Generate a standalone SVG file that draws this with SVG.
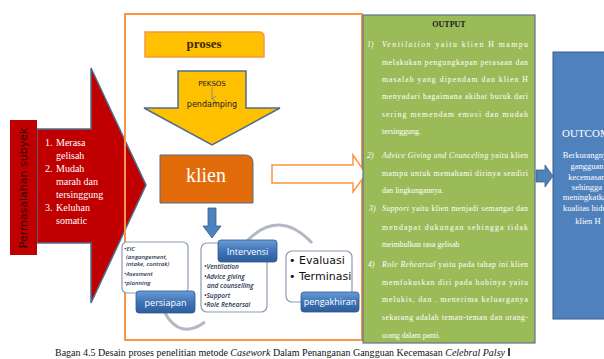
<svg xmlns="http://www.w3.org/2000/svg" width="604" height="359" viewBox="0 0 604 359">
<defs>
<style>
.serif{font-family:"Liberation Serif","Times New Roman",serif}
.sans{font-family:"DejaVu Sans","Liberation Sans",sans-serif}
.gt{font-family:"Liberation Serif",serif;font-size:7.8px;fill:#ffffff}
.card{fill:#ffffff;stroke:#8c9bb0;stroke-width:1.2}
.lbl{fill:url(#bg);stroke:#2f5888;stroke-width:0.8}
.lt{font-family:"Open Sans","DejaVu Sans",sans-serif;font-size:9px;fill:#ffffff;text-anchor:middle}
.it{font-family:"Open Sans","DejaVu Sans",sans-serif;font-style:italic;font-weight:600;fill:#2a3550}
.arc{fill:none;stroke:#b3b9c2;stroke-width:3}
</style>
<linearGradient id="bg" x1="0" y1="0" x2="0" y2="1">
<stop offset="0" stop-color="#6a9bd6"/>
<stop offset="0.5" stop-color="#3f74b8"/>
<stop offset="1" stop-color="#2d5d9c"/>
</linearGradient>
<marker id="sa" markerWidth="6" markerHeight="6" refX="3" refY="5" orient="auto" markerUnits="userSpaceOnUse">
<path d="M0,1 L3,5 L6,1" fill="none" stroke="#6b84a6" stroke-width="0.8"/>
</marker>
</defs>
<rect width="604" height="359" fill="#ffffff"/>

<g id="frame-bg"><rect x="125" y="14" width="237" height="326" fill="#ffffff"/></g>

<g id="red-arrow">
<path d="M37,129 H91 V68 L146,185 L91,303 V243 H37 Z" fill="#c00000" stroke="#4f6d8f" stroke-width="1.5"/>
<text class="serif" font-size="10" fill="#ffffff">
<tspan x="45" y="146">1.</tspan><tspan x="56" y="146">Merasa</tspan>
<tspan x="56" y="159">gelisah</tspan>
<tspan x="45" y="172">2.</tspan><tspan x="56" y="172">Mudah</tspan>
<tspan x="56" y="185">marah dan</tspan>
<tspan x="56" y="198">tersinggung</tspan>
<tspan x="45" y="211">3.</tspan><tspan x="56" y="211">Keluhan</tspan>
<tspan x="56" y="224">somatic</tspan>
</text>
</g>

<g id="frame"><rect x="125" y="14" width="237" height="326" fill="none" stroke="#f79646" stroke-width="2"/></g>

<g id="permasalahan">
<rect x="10" y="120" width="27" height="135" fill="#c00000"/>
<text class="sans" font-size="11" fill="#2a0505" text-anchor="middle" transform="translate(27,188) rotate(-90)">Permasalahan subyek</text>
</g>

<g id="proses">
<path d="M145,32 H259 Q264,32 264,37 V57 H145 Z" fill="#ffc000" stroke="#f79646" stroke-width="1.5"/>
<text class="serif" font-size="13" font-weight="bold" fill="#3a2a00" text-anchor="middle" x="204" y="48">proses</text>
</g>

<g id="peksos">
<path d="M178,71 H246 V108 H280 L212,145 L144,108 H178 Z" fill="#ffc000" stroke="#4f6d8f" stroke-width="1.5"/>
<text class="sans" font-size="7" fill="#222" text-anchor="middle" x="212" y="86">PEKSOS</text>
<line x1="212" y1="87" x2="212" y2="99" stroke="#6b84a6" stroke-width="0.8" marker-end="url(#sa)"/>
<text class="sans" font-size="8" fill="#222" text-anchor="middle" x="212" y="107">pendamping</text>
</g>

<g id="klien">
<path d="M160,155 H245 Q253,155 253,163 V203 H160 Z" fill="#e36c0a" stroke="#4f6d8f" stroke-width="1"/>
<text class="serif" font-size="20" fill="#ffffff" text-anchor="middle" x="206" y="182">klien</text>
</g>

<g id="connectors">
<path d="M272,165 H353 V155 L366,174 L353,192 V183 H272 Z" fill="#ffffff" stroke="#f79646" stroke-width="1.5"/>
<path d="M208,208 H216 V226 H221 L212,238 L203,226 H208 Z" fill="#4f81bd" stroke="#385d8a" stroke-width="0.8"/>
<path class="arc" d="M247,241 Q279,208 312,243"/>
<path class="arc" d="M165,313 Q180,340 205,322"/>
<path d="M536,170 H545 V165 L553,176 L545,187 V182 H536 Z" fill="#4f81bd" stroke="#385d8a" stroke-width="0.8"/>
</g>

<g id="persiapan">
<rect class="card" x="122" y="242" width="66" height="51" rx="5"/>
<text class="it" font-size="6">
<tspan x="124" y="251">•EIC</tspan>
<tspan x="126" y="258.5">(angangement,</tspan>
<tspan x="126" y="266">intake, contrak)</tspan>
<tspan x="124" y="276">•Asesment</tspan>
<tspan x="124" y="285">•planning</tspan>
</text>
<rect class="lbl" x="136" y="291" width="59" height="22" rx="3"/>
<text class="lt" x="165.5" y="305.5">persiapan</text>
</g>

<g id="intervensi">
<rect class="card" x="201" y="243" width="66" height="69" rx="6"/>
<rect class="lbl" x="218" y="240" width="59" height="22" rx="3"/>
<text class="lt" x="247.5" y="254.5">Intervensi</text>
<text class="it" font-size="6.5">
<tspan x="204" y="269">•Ventilation</tspan>
<tspan x="204" y="279">•Advice giving</tspan>
<tspan x="207" y="288">and counselling</tspan>
<tspan x="204" y="298">•Support</tspan>
<tspan x="204" y="307">•Role Rehearsal</tspan>
</text>
</g>

<g id="pengakhiran">
<rect class="card" x="286" y="251" width="66" height="51" rx="6"/>
<text class="sans" font-size="11" fill="#111">
<tspan x="289" y="264">• Evaluasi</tspan>
<tspan x="289" y="280">• Terminasi</tspan>
</text>
<rect class="lbl" x="301" y="292" width="58" height="20" rx="3"/>
<text class="lt" x="330" y="305">pengakhiran</text>
</g>

<g id="output">
<rect x="363" y="15" width="172" height="328" fill="#9bbb59" stroke="#5a7394" stroke-width="1.2"/>
<text class="serif" font-size="8" font-weight="bold" fill="#1a1a1a" text-anchor="middle" x="449" y="27">OUTPUT</text>
<text class="gt" x="367" y="47" font-style="italic">1)</text>
<text class="gt" x="382" y="47" textLength="146" lengthAdjust="spacing"><tspan font-style="italic">Ventilation</tspan> yaitu klien H mampu</text>
<text class="gt" x="382" y="65" textLength="146" lengthAdjust="spacing">melakukan pengungkapan perasaan dan</text>
<text class="gt" x="382" y="82" textLength="146" lengthAdjust="spacing">masalah yang dipendam dan klien H</text>
<text class="gt" x="382" y="99" textLength="146" lengthAdjust="spacing">menyadari bagaimana akibat buruk dari</text>
<text class="gt" x="382" y="117" textLength="146" lengthAdjust="spacing">sering memendam emosi dan mudah</text>
<text class="gt" x="382" y="134">tersinggung.</text>
<text class="gt" x="367" y="158" font-style="italic">2)</text>
<text class="gt" x="382" y="158" textLength="146" lengthAdjust="spacing"><tspan font-style="italic">Advice Giving and Counceling</tspan> yaitu klien</text>
<text class="gt" x="382" y="176" textLength="146" lengthAdjust="spacing">mampu untuk memahami dirinya sendiri</text>
<text class="gt" x="382" y="193">dan lingkungannya.</text>
<text class="gt" x="369" y="211" font-style="italic">3)</text>
<text class="gt" x="382" y="211" textLength="146" lengthAdjust="spacing"><tspan font-style="italic">Support</tspan> yaitu klien menjadi  semangat dan</text>
<text class="gt" x="382" y="230" textLength="146" lengthAdjust="spacing">mendapat dukungan sehingga tidak</text>
<text class="gt" x="382" y="247">meimbulkan rasa gelisah</text>
<text class="gt" x="368" y="267" font-size="9.5" font-style="italic">4)</text>
<text class="gt" x="382" y="267" textLength="146" lengthAdjust="spacing"><tspan font-style="italic">Role Rehearsal</tspan> yaitu pada tahap ini klien</text>
<text class="gt" x="382" y="285" textLength="146" lengthAdjust="spacing">memfokuskan diri pada hobinya yaitu</text>
<text class="gt" x="382" y="302" textLength="146" lengthAdjust="spacing">melukis,  dan   .  menerima keluarganya</text>
<text class="gt" x="382" y="320" textLength="146" lengthAdjust="spacing">sekarang adalah teman-teman dan orang-</text>
<text class="gt" x="382" y="338">orang dalam panti.</text>
</g>

<g id="outcome">
<rect x="553" y="52" width="60" height="267" fill="#4f81bd" stroke="#385d8a" stroke-width="1"/>
<text class="serif" font-size="11" fill="#ffffff" x="562" y="137">OUTCOME</text>
<text class="serif" font-size="8.5" fill="#ffffff" text-anchor="middle">
<tspan x="588" y="158">Berkurangnya</tspan>
<tspan x="588" y="169">gangguan</tspan>
<tspan x="588" y="180">kecemasan</tspan>
<tspan x="588" y="190">sehingga</tspan>
<tspan x="588" y="200">meningkatkan</tspan>
<tspan x="588" y="211">kualitas hidup</tspan>
<tspan x="588" y="224">klien H</tspan>
</text>
</g>

<g id="caption">
<text class="serif" font-size="9.5" fill="#111" x="55" y="356" textLength="450" lengthAdjust="spacingAndGlyphs">Bagan 4.5 Desain proses penelitian metode <tspan font-style="italic">Casework</tspan> Dalam Penanganan Gangguan Kecemasan <tspan font-style="italic">Celebral Palsy</tspan></text>
<line x1="509" y1="348" x2="509" y2="356" stroke="#111" stroke-width="1.6"/>
</g>
</svg>
